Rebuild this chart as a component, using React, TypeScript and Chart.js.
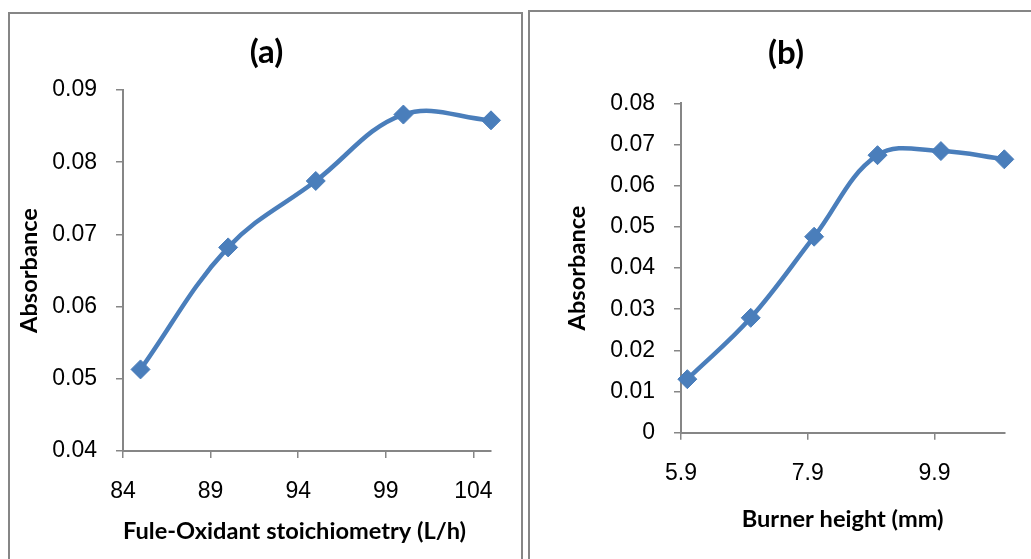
import React, { useEffect, useRef } from "react";
import { Chart, registerables } from "chart.js";

Chart.register(...registerables);

// ---------- Panel (a): Fuel-oxidant stoichiometry ----------
const fuelOxidantFlow = [85, 90, 95, 100, 105];
const absorbanceA = [0.0513, 0.0682, 0.0774, 0.0866, 0.0858];
const xTicksA = [84, 89, 94, 99, 104];
const xTickLabelsA = ["84", "89", "94", "99", "104"];
const yTicksA = [0.04, 0.05, 0.06, 0.07, 0.08, 0.09];
const yTickLabelsA = ["0.04", "0.05", "0.06", "0.07", "0.08", "0.09"];

// ---------- Panel (b): Burner height ----------
const burnerHeight = [6, 7, 8, 9, 10, 11];
const absorbanceB = [0.013, 0.0279, 0.0476, 0.0674, 0.0684, 0.0664];
const xTicksB = [5.9, 7.9, 9.9];
const xTickLabelsB = ["5.9", "7.9", "9.9"];
const yTicksB = [0, 0.01, 0.02, 0.03, 0.04, 0.05, 0.06, 0.07, 0.08];
const yTickLabelsB = ["0", "0.01", "0.02", "0.03", "0.04", "0.05", "0.06", "0.07", "0.08"];

const LINE_COLOR = "#4A7EBB";
const AXIS_COLOR = "#868686";
const TICK_FAMILY = "'Liberation Sans', Arial, sans-serif";
const TITLE_FAMILY = "Lato, 'Open Sans', sans-serif";
const H = 559;

type PanelSpec = {
  left: number;
  width: number;
  title: string;
  xTitle: string;
  yTitle: string;
  xs: number[];
  ys: number[];
  xTicks: number[];
  xTickLabels: string[];
  yTicks: number[];
  yTickLabels: string[];
  xMin: number;
  xMax: number;
  yMin: number;
  yMax: number;
  padLeft: number;
  yWidth: number;
  rightWidth: number;
  xHeight: number;
  titleSize: number;
  titlePadTop: number;
  titlePadBottom: number;
  yTitlePad: number;
  xTitlePad: number;
  xTitleAlign: "start" | "center" | "end";
  xTickPad: number;
  yTickPad: number;
};

const panelA: PanelSpec = {
  left: 0,
  width: 525,
  title: "(a)",
  xTitle: "Fule-Oxidant stoichiometry (L/h)",
  yTitle: "Absorbance",
  xs: fuelOxidantFlow,
  ys: absorbanceA,
  xTicks: xTicksA,
  xTickLabels: xTickLabelsA,
  yTicks: yTicksA,
  yTickLabels: yTickLabelsA,
  xMin: 84,
  xMax: 105,
  yMin: 0.04,
  yMax: 0.09,
  padLeft: 8,
  yWidth: 115,
  rightWidth: 34,
  xHeight: 108,
  titleSize: 33,
  titlePadTop: 33,
  titlePadBottom: 17.4,
  yTitlePad: 7,
  xTitlePad: 13,
  xTitleAlign: "start",
  xTickPad: 20,
  yTickPad: 19,
};

const panelB: PanelSpec = {
  left: 525,
  width: 506,
  title: "(b)",
  xTitle: "Burner height (mm)",
  yTitle: "Absorbance",
  xs: burnerHeight,
  ys: absorbanceB,
  xTicks: xTicksB,
  xTickLabels: xTickLabelsB,
  yTicks: yTicksB,
  yTickLabels: yTickLabelsB,
  xMin: 5.9,
  xMax: 11,
  yMin: 0,
  yMax: 0.08,
  padLeft: 16,
  yWidth: 140,
  rightWidth: 26.7,
  xHeight: 126.3,
  titleSize: 33,
  titlePadTop: 33.5,
  titlePadBottom: 30.2,
  yTitlePad: 22,
  xTitlePad: 25,
  xTitleAlign: "center",
  xTickPad: 20.5,
  yTickPad: 19,
};

function buildConfig(p: PanelSpec): any {
  const axisTitleFont = { family: TITLE_FAMILY, size: 23.6, weight: "bold" as const, lineHeight: 1.2 };
  const tickFont = { family: TICK_FAMILY, size: 23, lineHeight: 1.2 };
  const grid = {
    display: true,
    drawOnChartArea: false,
    drawTicks: true,
    tickLength: 7,
    color: AXIS_COLOR,
    lineWidth: 1.5,
  };
  return {
    type: "line",
    data: {
      datasets: [
        {
          data: p.xs.map((x, i) => ({ x, y: p.ys[i] })),
          borderColor: LINE_COLOR,
          backgroundColor: LINE_COLOR,
          borderWidth: 4.5,
          tension: 0.38,
          pointStyle: "rectRot",
          pointRadius: 9.5,
          pointBorderWidth: 1,
          pointBackgroundColor: LINE_COLOR,
          pointBorderColor: LINE_COLOR,
          fill: false,
          clip: false,
        },
      ],
    },
    options: {
      responsive: false,
      animation: false,
      devicePixelRatio: 1,
      events: [],
      layout: { padding: { left: p.padLeft, top: 0, right: 0, bottom: 0 } },
      plugins: {
        legend: { display: false },
        tooltip: { enabled: false },
        title: {
          display: true,
          text: p.title,
          color: "#000",
          font: { family: TITLE_FAMILY, size: p.titleSize, weight: "bold", lineHeight: 1.2 },
          padding: { top: p.titlePadTop, bottom: p.titlePadBottom },
        },
      },
      scales: {
        x: {
          type: "linear",
          position: "bottom",
          min: p.xMin,
          max: p.xMax,
          afterBuildTicks: (s: any) => {
            s.ticks = p.xTicks.map((v) => ({ value: v }));
          },
          afterFit: (s: any) => {
            s.height = p.xHeight;
          },
          ticks: {
            autoSkip: false,
            maxRotation: 0,
            color: "#000",
            font: tickFont,
            padding: p.xTickPad,
            callback: (_v: any, i: number) => p.xTickLabels[i],
          },
          grid,
          border: { display: true, color: AXIS_COLOR, width: 2 },
          title: {
            display: true,
            text: p.xTitle,
            color: "#000",
            align: p.xTitleAlign,
            font: axisTitleFont,
            padding: { top: 0, bottom: p.xTitlePad },
          },
        },
        y: {
          type: "linear",
          position: "left",
          min: p.yMin,
          max: p.yMax,
          afterBuildTicks: (s: any) => {
            s.ticks = p.yTicks.map((v) => ({ value: v }));
          },
          afterFit: (s: any) => {
            s.width = p.yWidth;
          },
          ticks: {
            autoSkip: false,
            color: "#000",
            font: tickFont,
            padding: p.yTickPad,
            callback: (_v: any, i: number) => p.yTickLabels[i],
          },
          grid,
          border: { display: true, color: AXIS_COLOR, width: 2 },
          title: {
            display: true,
            text: p.yTitle,
            color: "#000",
            font: axisTitleFont,
            padding: { top: p.yTitlePad, bottom: 0 },
          },
        },
        spacer: {
          type: "linear",
          position: "right",
          display: true,
          grid: { display: false, drawTicks: false },
          border: { display: false },
          ticks: { display: false },
          afterFit: (s: any) => {
            s.width = p.rightWidth;
          },
        },
      },
    },
  };
}

function Panel({ spec }: { spec: PanelSpec }) {
  const ref = useRef<HTMLCanvasElement | null>(null);
  useEffect(() => {
    if (!ref.current) return;
    const chart = new Chart(ref.current, buildConfig(spec));
    return () => chart.destroy();
  }, [spec]);
  return (
    <canvas
      ref={ref}
      width={spec.width}
      height={H}
      style={{ position: "absolute", left: spec.left, top: 0, width: spec.width, height: H }}
    />
  );
}

export default function App() {
  return (
    <div
      style={{
        position: "fixed",
        left: 0,
        top: 0,
        width: 1031,
        height: H,
        background: "#fff",
        overflow: "hidden",
      }}
    >
      <div
        style={{
          position: "absolute",
          left: 8,
          top: 12,
          width: 515,
          height: 600,
          boxSizing: "border-box",
          border: `2px solid ${AXIS_COLOR}`,
        }}
      />
      <div
        style={{
          position: "absolute",
          left: 528,
          top: 10,
          width: 600,
          height: 600,
          boxSizing: "border-box",
          border: `2px solid ${AXIS_COLOR}`,
        }}
      />
      <Panel spec={panelA} />
      <Panel spec={panelB} />
    </div>
  );
}
